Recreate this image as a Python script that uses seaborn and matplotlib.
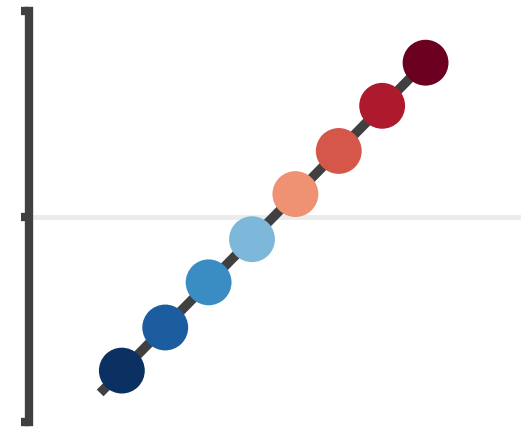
import numpy as np
import pandas as pd
import matplotlib.pyplot as plt
import seaborn as sns

# Data
steps = [0, 1, 2, 3, 4, 5, 6, 7]
values = [-0.75, -0.54, -0.32, -0.11, 0.11, 0.32, 0.54, 0.75]
dot_colors = ["#0a3161", "#1c5da0", "#3a8dc2", "#7db8da",
              "#ef9273", "#d4574a", "#ad1a2d", "#6c0020"]
yticks = [-1, 0, 1]

df = pd.DataFrame({"step": steps, "value": values})
df["group"] = df["step"].astype(str)

sns.set_style("white")
fig = plt.figure(figsize=(5.21, 4.29), dpi=100)
ax = fig.add_axes([29 / 521, 0.0165, 1 - 29 / 521, 0.957])

# light reference line at zero
ax.axhline(0, color="#ebebeb", lw=3.5, zorder=0)

# trend line, starting half a step before the first point
slope, intercept = np.polyfit(df["step"], df["value"], 1)
line_x = np.array([df["step"].min() - 0.5, df["step"].max()])
ax.plot(line_x, slope * line_x + intercept, color="#404040", lw=6.8,
        solid_capstyle="butt", zorder=1)

sns.scatterplot(
    data=df, x="step", y="value", hue="group",
    palette=dot_colors, s=1090, linewidth=0, legend=False, ax=ax, zorder=2
)

ax.set_xlim(-2.14, 9.2)
ax.set_ylim(-1, 1)
ax.set_yticks(yticks)
ax.set_yticklabels([])
ax.set_xticks([])
ax.set_xlabel("")
ax.set_ylabel("")

for side in ["top", "right", "bottom"]:
    ax.spines[side].set_visible(False)
ax.spines["left"].set_color("#404040")
ax.spines["left"].set_linewidth(6)
ax.spines["left"].set_capstyle("projecting")
ax.tick_params(axis="y", left=True, length=6, width=6, color="#404040", direction="out")

fig.savefig("out.png", dpi=100)
plt.close(fig)
